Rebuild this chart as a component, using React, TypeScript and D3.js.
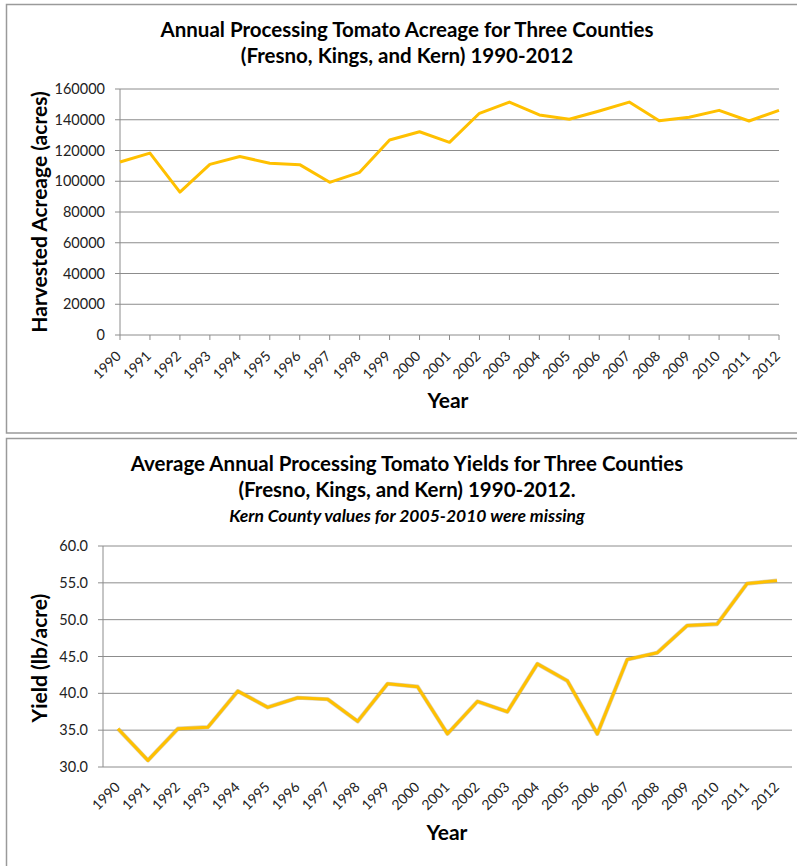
import React, { useEffect, useRef } from "react";
import * as d3 from "d3";

// years shared by both charts
const years = [
  "1990", "1991", "1992", "1993", "1994", "1995", "1996", "1997", "1998", "1999", "2000", "2001",
  "2002", "2003", "2004", "2005", "2006", "2007", "2008", "2009", "2010", "2011", "2012",
];

// harvested acreage (acres)
const acreage = [
  112500, 118300, 92900, 111000, 116100, 111700, 110800, 99300, 105800, 126800, 132200, 125300,
  144200, 151500, 143100, 140300, 145700, 151500, 139400, 141600, 146100, 139200, 146100,
];

// yield values
const yields = [
  35.2, 30.9, 35.2, 35.4, 40.3, 38.1, 39.4, 39.2, 36.2, 41.3, 40.9, 34.5,
  38.9, 37.5, 44.0, 41.7, 34.5, 44.6, 45.5, 49.2, 49.4, 54.9, 55.3,
];

const acreageTicks = [0, 20000, 40000, 60000, 80000, 100000, 120000, 140000, 160000];
const yieldTicks = [30, 35, 40, 45, 50, 55, 60];

const LINE = "#FFC000";
const GRID = "#8c8c8c";
const FONT = "Lato, 'Open Sans', sans-serif";

const App: React.FC = () => {
  const svgRef = useRef<SVGSVGElement | null>(null);

  useEffect(() => {
    if (!svgRef.current) return;
    const svg = d3.select(svgRef.current);
    svg.selectAll("*").remove();

    // outer frames
    svg.append("rect").attr("x", 6.5).attr("y", 4.5).attr("width", 800).attr("height", 428.5)
      .attr("fill", "white").attr("stroke", "#9a9a9a").attr("stroke-width", 1.5);
    svg.append("rect").attr("x", 6.5).attr("y", 438.5).attr("width", 800).attr("height", 440)
      .attr("fill", "white").attr("stroke", "#9a9a9a").attr("stroke-width", 1.5);

    // ---------- top chart: acreage ----------
    const top = svg.append("g");
    const x1 = d3.scalePoint<string>().domain(years).range([120, 779]);
    const y1 = d3.scaleLinear().domain([0, 160000]).range([335, 89]);

    top.selectAll(".grid").data(acreageTicks).enter().append("line")
      .attr("x1", 120).attr("x2", 779)
      .attr("y1", d => y1(d)).attr("y2", d => y1(d))
      .attr("stroke", GRID).attr("stroke-width", 1);

    top.append("line").attr("x1", 120).attr("x2", 120).attr("y1", y1(0)).attr("y2", y1(160000))
      .attr("stroke", GRID);
    // small ticks on left axis
    top.selectAll(".ytick").data(acreageTicks).enter().append("line")
      .attr("x1", 115).attr("x2", 120).attr("y1", d => y1(d)).attr("y2", d => y1(d))
      .attr("stroke", GRID);
    top.selectAll(".xtick").data(years).enter().append("line")
      .attr("x1", d => x1(d)!).attr("x2", d => x1(d)!).attr("y1", 335).attr("y2", 340)
      .attr("stroke", GRID);

    top.selectAll(".ylab").data(acreageTicks).enter().append("text")
      .attr("x", 105).attr("y", d => y1(d) + 5)
      .attr("text-anchor", "end").style("font-family", FONT).style("font-size", "14.5px").attr("fill", "#222")
      .text(d => String(d));

    top.selectAll(".xlab").data(years).enter().append("text")
      .attr("transform", d => `translate(${x1(d)! + 2},${357}) rotate(-45)`)
      .attr("text-anchor", "end").style("font-family", FONT).style("font-size", "14px").attr("fill", "#222")
      .text(d => d);

    const line1 = d3.line<number>().x((d, i) => x1(years[i])!).y(d => y1(d));
    top.append("path").datum(acreage).attr("d", line1).attr("fill", "none")
      .attr("stroke", LINE).attr("stroke-width", 3).attr("stroke-linejoin", "round");

    top.append("text").attr("x", 407).attr("y", 37).attr("text-anchor", "middle")
      .style("font-family", FONT).style("font-weight", "bold").style("font-size", "20.5px")
      .text("Annual Processing Tomato Acreage for Three Counties");
    top.append("text").attr("x", 407).attr("y", 63).attr("text-anchor", "middle")
      .style("font-family", FONT).style("font-weight", "bold").style("font-size", "20.5px")
      .text("(Fresno, Kings, and Kern) 1990-2012");

    top.append("text").attr("transform", `translate(47,212) rotate(-90)`).attr("text-anchor", "middle")
      .style("font-family", FONT).style("font-weight", "bold").style("font-size", "21px")
      .text("Harvested Acreage (acres)");
    top.append("text").attr("x", 448).attr("y", 408).attr("text-anchor", "middle")
      .style("font-family", FONT).style("font-weight", "bold").style("font-size", "21px")
      .text("Year");

    // ---------- bottom chart: yields ----------
    const bot = svg.append("g");
    const x2 = d3.scaleBand<string>().domain(years).range([103, 792]);
    const y2 = d3.scaleLinear().domain([30, 60]).range([767, 546]);
    const cx = (d: string) => x2(d)! + x2.bandwidth() / 2;

    bot.selectAll(".grid").data(yieldTicks).enter().append("line")
      .attr("x1", 103).attr("x2", 792)
      .attr("y1", d => y2(d)).attr("y2", d => y2(d))
      .attr("stroke", GRID).attr("stroke-width", 1);
    bot.append("line").attr("x1", 103).attr("x2", 103).attr("y1", y2(30)).attr("y2", y2(60))
      .attr("stroke", GRID);
    bot.selectAll(".ytick").data(yieldTicks).enter().append("line")
      .attr("x1", 98).attr("x2", 103).attr("y1", d => y2(d)).attr("y2", d => y2(d))
      .attr("stroke", GRID);

    bot.selectAll(".ylab").data(yieldTicks).enter().append("text")
      .attr("x", 88).attr("y", d => y2(d) + 5)
      .attr("text-anchor", "end").style("font-family", FONT).style("font-size", "14.5px").attr("fill", "#222")
      .text(d => d.toFixed(1));

    bot.selectAll(".xlab").data(years).enter().append("text")
      .attr("transform", d => `translate(${cx(d) + 3},${788}) rotate(-45)`)
      .attr("text-anchor", "end").style("font-family", FONT).style("font-size", "14px").attr("fill", "#222")
      .text(d => d);

    const line2 = d3.line<number>().x((d, i) => cx(years[i])).y(d => y2(d));
    bot.append("path").datum(yields).attr("d", line2).attr("fill", "none")
      .attr("stroke", "#b8a060").attr("stroke-opacity", 0.5).attr("stroke-width", 4.2).attr("stroke-linejoin", "round");
    bot.append("path").datum(yields).attr("d", line2).attr("fill", "none")
      .attr("stroke", LINE).attr("stroke-width", 3).attr("stroke-linejoin", "round");

    bot.append("text").attr("x", 407).attr("y", 471).attr("text-anchor", "middle")
      .style("font-family", FONT).style("font-weight", "bold").style("font-size", "20.5px")
      .text("Average Annual Processing Tomato Yields for Three Counties");
    bot.append("text").attr("x", 407).attr("y", 497).attr("text-anchor", "middle")
      .style("font-family", FONT).style("font-weight", "bold").style("font-size", "20.5px")
      .text("(Fresno, Kings, and Kern) 1990-2012.");
    bot.append("text").attr("x", 407).attr("y", 522).attr("text-anchor", "middle")
      .style("font-family", FONT).style("font-weight", "bold").style("font-style", "italic").style("font-size", "17.5px")
      .text("Kern County values for 2005-2010 were missing");

    bot.append("text").attr("transform", `translate(47,658) rotate(-90)`).attr("text-anchor", "middle")
      .style("font-family", FONT).style("font-weight", "bold").style("font-size", "21px")
      .text("Yield (lb/acre)");
    bot.append("text").attr("x", 447).attr("y", 840).attr("text-anchor", "middle")
      .style("font-family", FONT).style("font-weight", "bold").style("font-size", "21px")
      .text("Year");
  }, []);

  return (
    <div style={{ position: "absolute", left: 0, top: 0 }}>
      <svg ref={svgRef} width={797} height={866} style={{ display: "block", background: "white" }} />
    </div>
  );
};

export default App;
